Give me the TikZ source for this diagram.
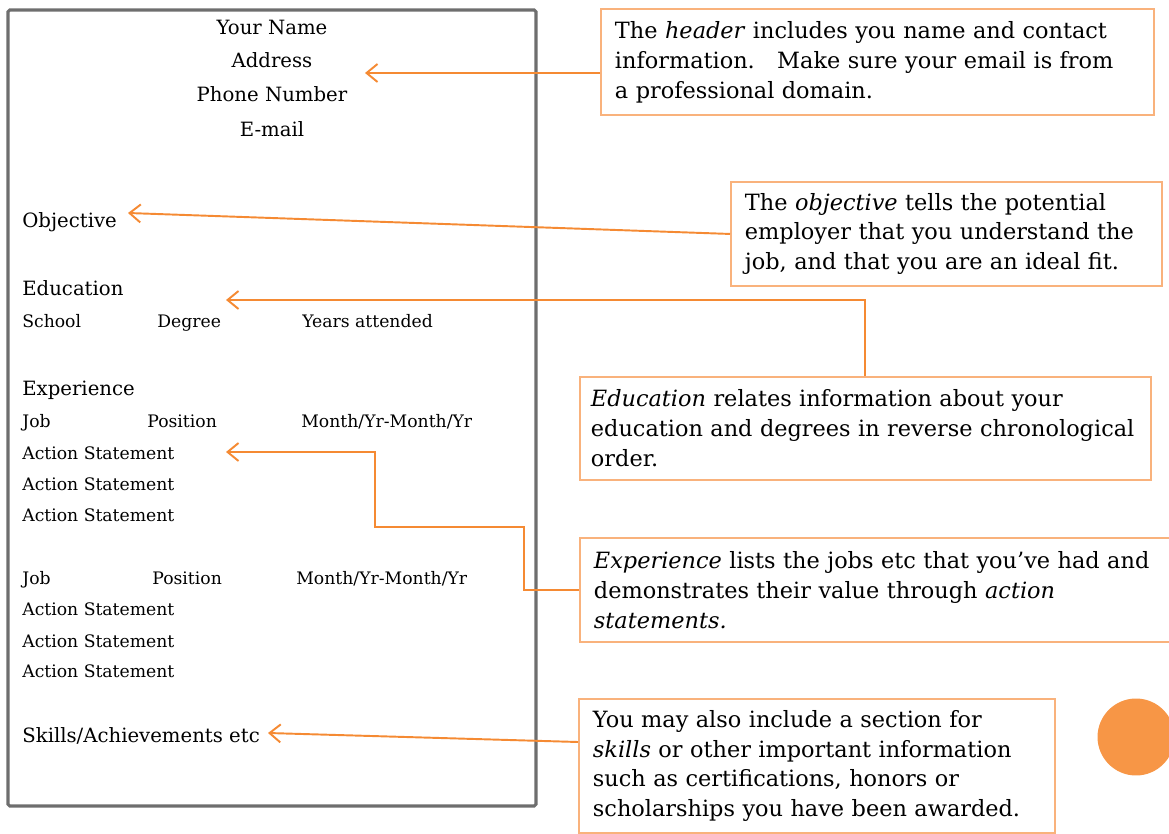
\documentclass[tikz,border=0pt]{standalone}
\usepackage{fontspec}
\setmainfont{DejaVu Serif}
\usepackage{tikz}
\usetikzlibrary{positioning}
\usetikzlibrary{arrows.meta}

\definecolor{ArrowOrange}{HTML}{F58A33}
\definecolor{BoxOrange}{HTML}{F9B27C}
\definecolor{DotOrange}{HTML}{F79646}
\definecolor{PageGrey}{HTML}{6E6E6E}

\tikzset{
  resline/.style={anchor=base west, inner sep=0pt, font=\fontsize{11.2}{13}\selectfont},
  ressmall/.style={anchor=base west, inner sep=0pt, font=\fontsize{9.8}{12}\selectfont},
  callout/.style={draw=BoxOrange, line width=1.1pt, anchor=north west, align=left,
                  inner xsep=0.28cm, font=\fontsize{12.75}{17}\selectfont},
  pointer/.style={draw=ArrowOrange, line width=1.1pt, -{Straight Barb[length=2.2mm,width=3.6mm]}},
}

\begin{document}
\begin{tikzpicture}[x=0.02cm, y=-0.02cm]
    \useasboundingbox (0,0) rectangle (1169,834);

    %Resume page
    \draw[PageGrey, line width=1.8pt, rounded corners=1pt] (8,10) rectangle (536,806);

    %Header
    \node[resline, anchor=base] (Name) at (272,35) {Your Name};
    \node[resline, anchor=base] (Address) at (272,68) {Address};
    \node[resline, anchor=base] (Phone) at (272,102) {Phone Number};
    \node[resline, anchor=base] (Email) at (272,137) {E-mail};

    %Sections
    \node[resline] (Objective) at (22,228) {Objective};

    \node[resline] (Education) at (22,296) {Education};
    \node[ressmall] (School) at (22,328) {School};
    \node[ressmall] (Degree) at (157,328) {Degree};
    \node[ressmall] (Years) at (302,328) {Years attended};

    \node[resline] (Experience) at (22,395) {Experience};
    \node[ressmall] (JobA) at (22,427) {Job};
    \node[ressmall] (PositionA) at (147,427) {Position};
    \node[ressmall] (DatesA) at (301,427) {Month/Yr-Month/Yr};
    \foreach \y [count=\i] in {459,490,521}
        \node[ressmall] (ActionA\i) at (22,\y) {Action Statement};

    \node[ressmall] (JobB) at (22,584) {Job};
    \node[ressmall] (PositionB) at (152,584) {Position};
    \node[ressmall] (DatesB) at (296,584) {Month/Yr-Month/Yr};
    \foreach \y [count=\i] in {615,647,677}
        \node[ressmall] (ActionB\i) at (22,\y) {Action Statement};

    \node[resline] (Skills) at (22,742) {Skills/Achievements etc};

    %-------------------------------------------
    %Notes

    \node[callout, text width=10.5cm, minimum height=2.12cm] (HeaderNote) at (600,8)
        {The \textit{header} includes you name and contact\\
         information.\ \ \ Make sure your email is from\\
         a professional domain.};

    \node[callout, text width=8.06cm, minimum height=2.08cm] (ObjectiveNote) at (730,181)
        {The \textit{objective} tells the potential\\
         employer that you understand the\\
         job, and that you are an ideal fit.};

    \node[callout, inner xsep=0.22cm, text width=10.98cm, minimum height=2.06cm] (EducationNote) at (579,376)
        {\textit{Education} relates information about your\\
         education and degrees in reverse chronological\\
         order.};

    \node[callout, text width=11.54cm, minimum height=2.08cm] (ExperienceNote) at (579,537)
        {\textit{Experience} lists the jobs etc that you’ve had and\\
         demonstrates their value through \textit{action}\\
         \textit{statements.}};

    \node[callout, text width=8.96cm, minimum height=2.68cm] (SkillsNote) at (578,698)
        {You may also include a section for\\
         \textit{skills} or other important information\\
         such as certifications, honors or\\
         scholarships you have been awarded.};

    \fill[DotOrange] (1136,737) circle [radius=0.77cm];

    %-------------------------------------------
    %Pointers

    \coordinate (AddressTip) at (365,73);
    \coordinate (ObjectiveTip) at (128,213);
    \coordinate (EducationTip) at (226,300);
    \coordinate (ExpBendA) at (524,527);
    \coordinate (ExpBendB) at (375,527);
    \coordinate (ActionTip) at (226,452);
    \coordinate (SkillsTip) at (268,733);

    \draw[pointer] (HeaderNote.west |- AddressTip) -- (AddressTip);
    \draw[pointer] (ObjectiveNote.west) -- (ObjectiveTip);
    \draw[pointer] (EducationNote.north) |- (EducationTip);
    \draw[pointer] (ExperienceNote.west) -| (ExpBendA) -- (ExpBendB) |- (ActionTip);
    \draw[pointer] (SkillsNote.west |- 0,742) -- (SkillsTip);

\end{tikzpicture}
\end{document}
